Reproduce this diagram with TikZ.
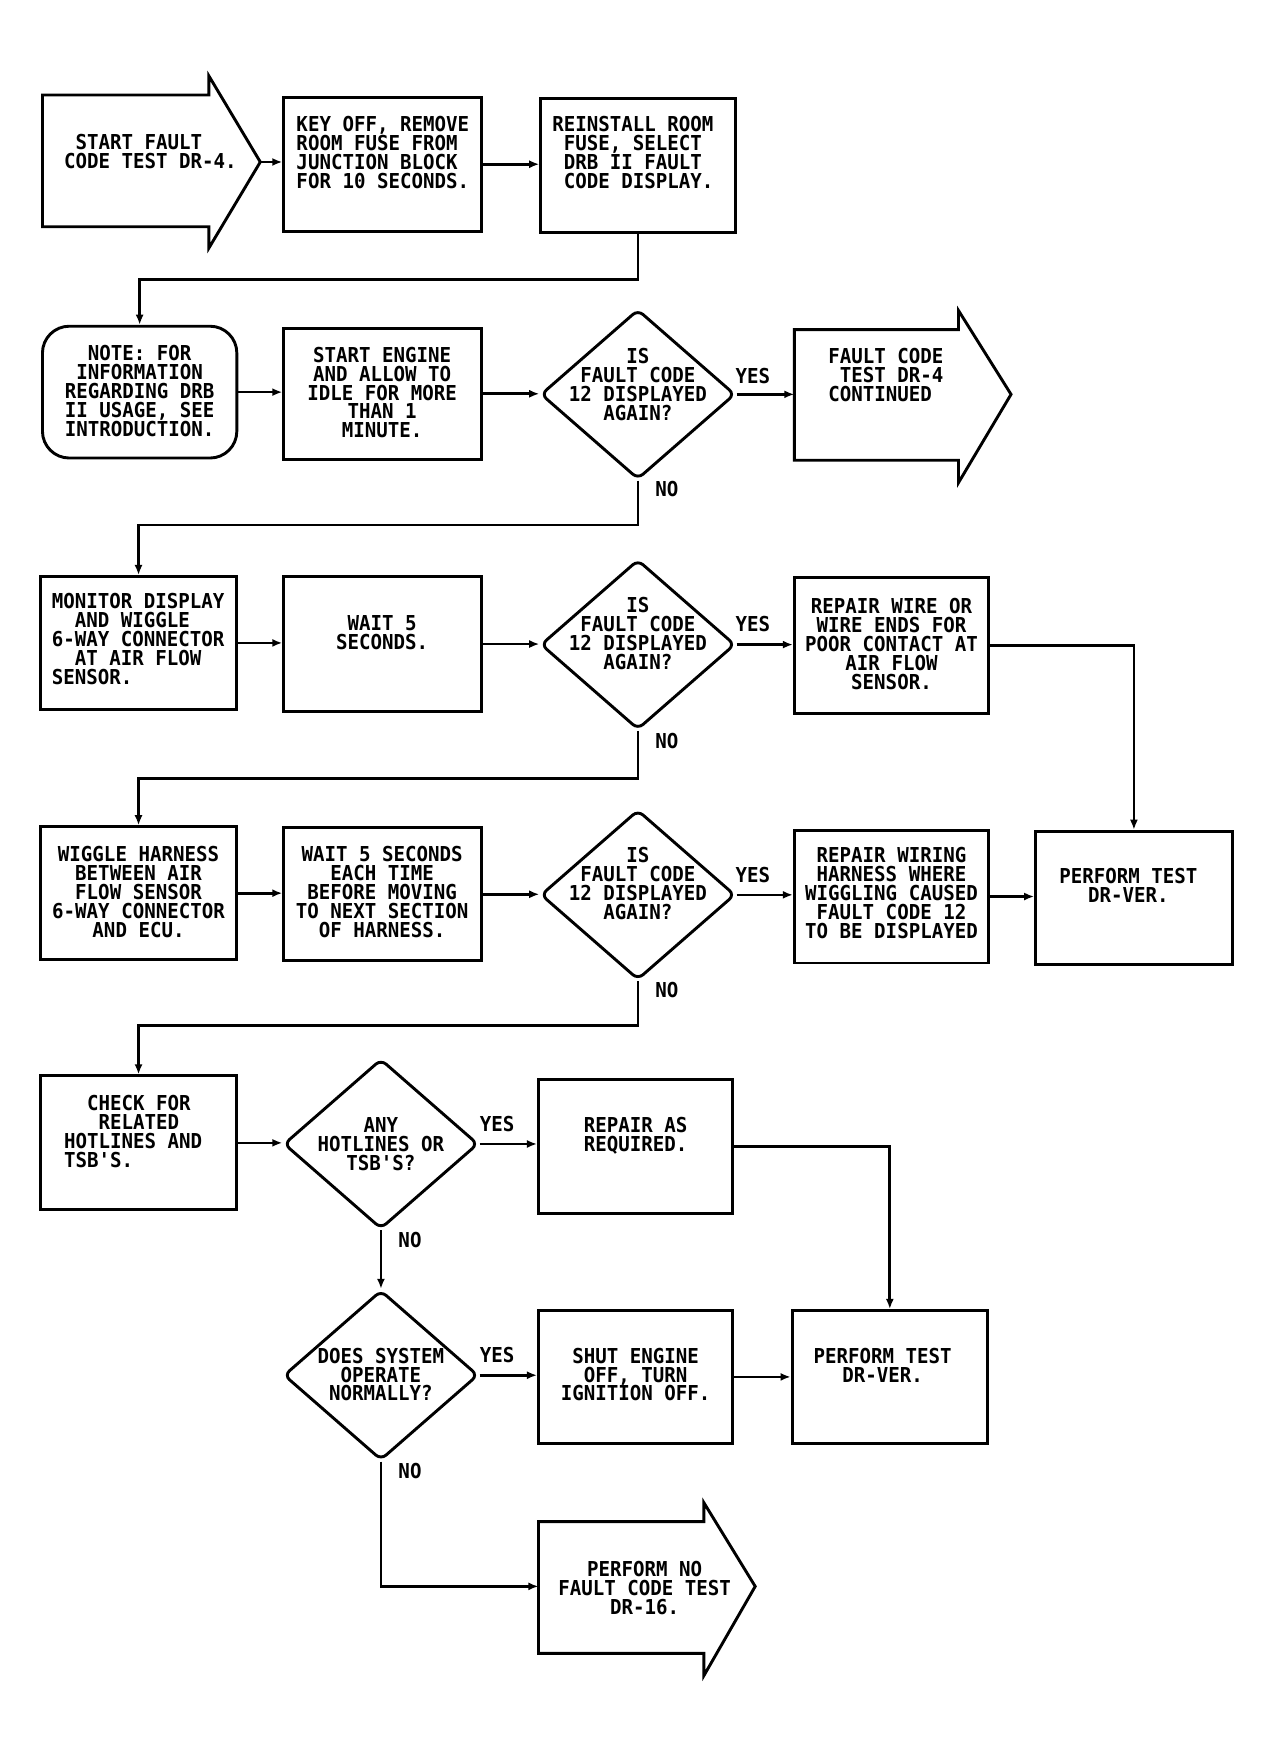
\documentclass[tikz,border=0pt]{standalone}
\usepackage{fontspec}
\newfontfamily\plotfont{DejaVu Sans Mono}[FakeStretch=0.93]
\usetikzlibrary{arrows.meta,shapes.geometric,fit}
\newcommand\padx{\hphantom{X}}
\begin{document}
\begin{tikzpicture}[x=0.5pt,y=-0.5pt,
  every node/.style={inner sep=0pt},
  box/.style={draw, line width=1.3pt, inner sep=0pt},
  dia/.style={draw, diamond, line width=1.3pt, minimum width=87pt, minimum height=76pt, rounded corners=3pt, inner sep=0pt},
  shp/.style={draw, line width=1.3pt, line join=miter},
  txt/.style={font=\plotfont\bfseries\fontsize{9.2}{8.5}\selectfont, align=center, anchor=north},
  txl/.style={font=\plotfont\bfseries\fontsize{9.2}{8.5}\selectfont, align=left, anchor=north west},
  lbl/.style={font=\plotfont\bfseries\fontsize{9.2}{8.5}\selectfont},
  conn/.style={line width=1.2pt, -{Latex[length=4.5pt,width=3.6pt]}},
  wire/.style={line width=1.2pt}
]
\useasboundingbox[fill=white] (0,0) rectangle (1131,1562);

% ---------- row 1
\draw[shp] (38,85) -- (187,85) -- (187,68) -- (233,145) -- (187,222) -- (187,203) -- (38,203) -- cycle;
\coordinate (sTip) at (233,145);
\node[txl] (tS) at (57,120) {\padx START FAULT\\CODE TEST DR-4.};
\node[box, fit={(254,87) (431,207)}] (A) {};
\node[txl] (tA) at (265,104) {KEY OFF, REMOVE\\ROOM FUSE FROM\\JUNCTION BLOCK\\FOR 10 SECONDS.};
\node[box, fit={(484,88) (658,208)}] (B) {};
\node[txl] (tB) at (494,104) {REINSTALL ROOM\\\padx FUSE, SELECT\\\padx DRB II FAULT\\\padx CODE DISPLAY.};

% ---------- row 2
\node[box, rounded corners=12pt, fit={(38,292) (212,410)}] (N1) {};
\node[txt] (tN1) at (125,309) {NOTE: FOR\\INFORMATION\\REGARDING DRB\\II USAGE, SEE\\INTRODUCTION.};
\node[box, fit={(254,294) (431,411)}] (C) {};
\node[txt] (tC) at (342,310) {START ENGINE\\AND ALLOW TO\\IDLE FOR MORE\\THAN 1\\MINUTE.};
\node[dia] (D1) at (571,353) {};
\node[txt] (tD1) at (571,311) {IS\\FAULT CODE\\12 DISPLAYED\\AGAIN?};
\draw[shp] (711,295) -- (858,295) -- (858,278) -- (905,353) -- (858,432) -- (858,412) -- (711,412) -- cycle;
\coordinate (fcIn) at (711,353);
\node[txl] (tFC) at (741,311) {FAULT CODE\\\padx TEST DR-4\\CONTINUED};
\node[lbl] (y1) at (674,337) {YES};
\node[lbl] (n1) at (597,438) {NO};

% ---------- row 3
\node[box, fit={(36,516) (212,635)}] (E) {};
\node[txl] (tE) at (46,531) {MONITOR DISPLAY\\\padx\padx AND WIGGLE\\6-WAY CONNECTOR\\\padx\padx AT AIR FLOW\\SENSOR.};
\node[box, fit={(254,516) (431,637)}] (F) {};
\node[txt] (tF) at (342,551) {WAIT 5\\SECONDS.};
\node[dia] (D2) at (571,577) {};
\node[txt] (tD2) at (571,534) {IS\\FAULT CODE\\12 DISPLAYED\\AGAIN?};
\node[box, fit={(711,517) (885,639)}] (G) {};
\node[txt] (tG) at (798,535) {REPAIR WIRE OR\\WIRE ENDS FOR\\POOR CONTACT AT\\AIR FLOW\\SENSOR.};
\node[lbl] (y2) at (674,559) {YES};
\node[lbl] (n2) at (597,663) {NO};

% ---------- row 4
\node[box, fit={(36,740) (212,859)}] (H) {};
\node[txt] (tH) at (124,757) {WIGGLE HARNESS\\BETWEEN AIR\\FLOW SENSOR\\6-WAY CONNECTOR\\AND ECU.};
\node[box, fit={(254,741) (431,860)}] (I) {};
\node[txt] (tI) at (342,757) {WAIT 5 SECONDS\\EACH TIME\\BEFORE MOVING\\TO NEXT SECTION\\OF HARNESS.};
\node[dia] (D3) at (571,801) {};
\node[txt] (tD3) at (571,758) {IS\\FAULT CODE\\12 DISPLAYED\\AGAIN?};
\node[box, fit={(711,743) (885,862)}] (J) {};
\node[txt] (tJ) at (798,758) {REPAIR WIRING\\HARNESS WHERE\\WIGGLING CAUSED\\FAULT CODE 12\\TO BE DISPLAYED};
\node[box, fit={(927,744) (1103,863)}] (K) {};
\node[txt] (tK) at (1010,777) {PERFORM TEST\\DR-VER.};
\node[lbl] (y3) at (674,783) {YES};
\node[lbl] (n3) at (597,886) {NO};

% ---------- row 5
\node[box, fit={(36,963) (212,1083)}] (L) {};
\node[txl] (tL) at (57,980) {\padx\padx CHECK FOR\\\padx\padx\padx RELATED\\HOTLINES AND\\TSB'S.};
\node[dia] (D4) at (341,1024) {};
\node[txt] (tD4) at (341,1000) {ANY\\HOTLINES OR\\TSB'S?};
\node[box, fit={(482,966) (656,1086)}] (M) {};
\node[txt] (tM) at (569,1000) {REPAIR AS\\REQUIRED.};
\node[lbl] (y4) at (445,1006) {YES};
\node[lbl] (n4) at (367,1110) {NO};

% ---------- row 6
\node[dia] (D5) at (341,1231) {};
\node[txt] (tD5) at (341,1206) {DOES SYSTEM\\OPERATE\\NORMALLY?};
\node[box, fit={(482,1173) (656,1292)}] (Nb) {};
\node[txt] (tNb) at (569,1206) {SHUT ENGINE\\OFF, TURN\\IGNITION OFF.};
\node[box, fit={(709,1173) (884,1292)}] (O) {};
\node[txt] (tO) at (790,1206) {PERFORM TEST\\DR-VER.};
\node[lbl] (y5) at (445,1213) {YES};
\node[lbl] (n5) at (367,1317) {NO};

% ---------- row 7
\draw[shp] (482,1362) -- (630,1362) -- (630,1345) -- (676,1420) -- (630,1500) -- (630,1480) -- (482,1480) -- cycle;
\coordinate (pIn) at (482,1420);
\node[txt] (tP) at (577,1397) {PERFORM NO\\FAULT CODE TEST\\DR-16.};

% ---------- connectors
\draw[conn] (sTip) -- (sTip -| A.west);
\draw[conn] (A.east) -- (A.east -| B.west);
\draw[conn] (B.south) -- (B.south |- 0,250) -| (N1.north);
\draw[conn] (N1.east) -- (N1.east -| C.west);
\draw[conn] (C.east) -- (C.east -| D1.west);
\draw[conn] (D1.east) -- (fcIn);
\draw[conn] (D1.south) -- (D1.south |- 0,470) -| (E.north);
\draw[conn] (E.east) -- (E.east -| F.west);
\draw[conn] (F.east) -- (F.east -| D2.west);
\draw[conn] (D2.east) -- (D2.east -| G.west);
\draw[conn] (G.east) -| (K.north);
\draw[conn] (D2.south) -- (D2.south |- 0,697) -| (H.north);
\draw[conn] (H.east) -- (H.east -| I.west);
\draw[conn] (I.east) -- (I.east -| D3.west);
\draw[conn] (D3.east) -- (D3.east -| J.west);
\draw[conn] (J.east) -- (J.east -| K.west);
\draw[conn] (D3.south) -- (D3.south |- 0,918) -| (L.north);
\draw[conn] (L.east) -- (L.east -| D4.west);
\draw[conn] (D4.east) -- (D4.east -| M.west);
\draw[conn] (M.east) -| (O.north);
\draw[conn] (D4.south) -- (D5.north);
\draw[conn] (D5.east) -- (D5.east -| Nb.west);
\draw[conn] (Nb.east) -- (Nb.east -| O.west);
\draw[conn] (D5.south) |- (pIn);
\end{tikzpicture}
\end{document}
